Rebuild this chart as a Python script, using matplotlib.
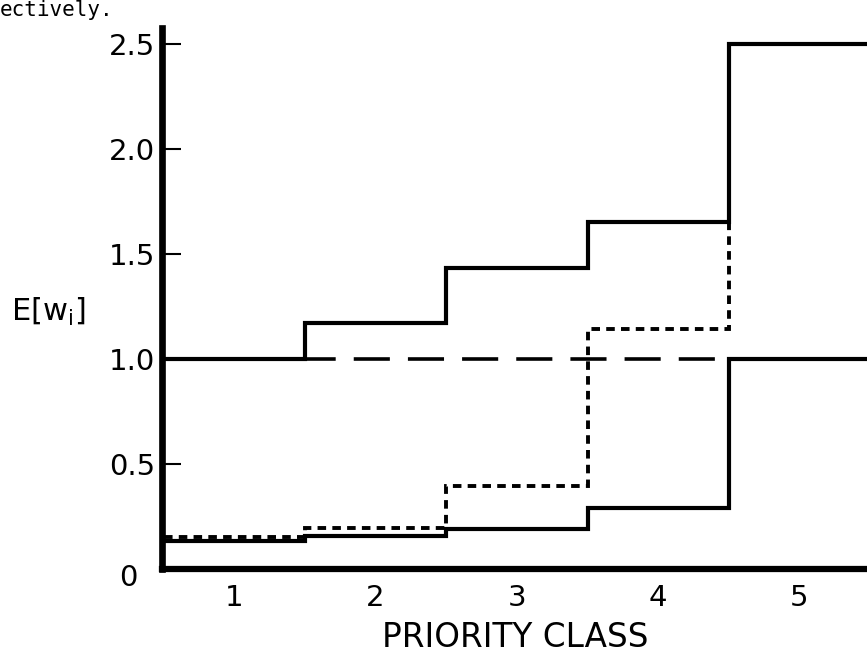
import numpy as np
import matplotlib
matplotlib.use('Agg')
from matplotlib import pyplot as plt

# priority classes and the expected waits
classes = [1, 2, 3, 4, 5]
upper_solid = [1.0, 1.17, 1.43, 1.65, 2.5]
fcfs_dashed = [1.0, 1.0, 1.0, 1.0, 1.0]
dotted = [0.15, 0.195, 0.395, 1.14, 2.5]
lower_solid = [0.135, 0.155, 0.19, 0.29, 1.0]

y_ticks = [0.5, 1.0, 1.5, 2.0, 2.5]
y_tick_labels = ['0.5', '1.0', '1.5', '2.0', '2.5']

plt.rcParams['font.family'] = 'DejaVu Sans'

fig = plt.figure(figsize=(8.67, 6.6), dpi=100)
ax = fig.add_axes([0.187, 0.138, 0.815, 0.82])

edges = np.array(classes + [classes[-1] + 1]) - 0.5

# dashed reference line only shows between classes 2 and 4
ax.stairs(fcfs_dashed[1:4], edges[1:5], baseline=None, color='black',
          linewidth=2.6, linestyle=(1.5, (10, 5)))
ax.stairs(dotted, edges, baseline=None, color='black',
          linewidth=2.8, linestyle=(0, (2.2, 1.6)))
ax.stairs(lower_solid, edges, baseline=None, color='black', linewidth=3)
ax.stairs(upper_solid, edges, baseline=None, color='black', linewidth=3)

ax.set_xlim(0.49, 5.49)
ax.set_ylim(0, 2.576)

for side in ['top', 'right']:
    ax.spines[side].set_visible(False)
ax.spines['left'].set_linewidth(4.8)
ax.spines['bottom'].set_linewidth(4.5)

ax.set_yticks(y_ticks)
ax.set_yticklabels(y_tick_labels)
ax.tick_params(axis='y', direction='in', length=14, width=1.5,
               labelsize=21, pad=5)
ax.set_xticks(classes)
ax.set_xticklabels([str(c) for c in classes])
ax.tick_params(axis='x', length=0, labelsize=21, pad=11)

# the zero label sits below and left of the corner
ax.text(-0.048, -0.017, '0', transform=ax.transAxes, ha='center',
        va='center', fontsize=21)

ax.set_xlabel('PRIORITY CLASS', fontsize=23.5, labelpad=6)
fig.text(0.013, 0.527, r'E[w$_\mathregular{i}$]', fontsize=22,
         ha='left', va='center')

# bit of the page text above the figure, cut by the scan
fig.text(0.0, 0.975, 'ectively.', fontsize=15, family='DejaVu Sans Mono',
         ha='left', va='baseline')

fig.savefig('out.png', dpi=100, facecolor='white')
